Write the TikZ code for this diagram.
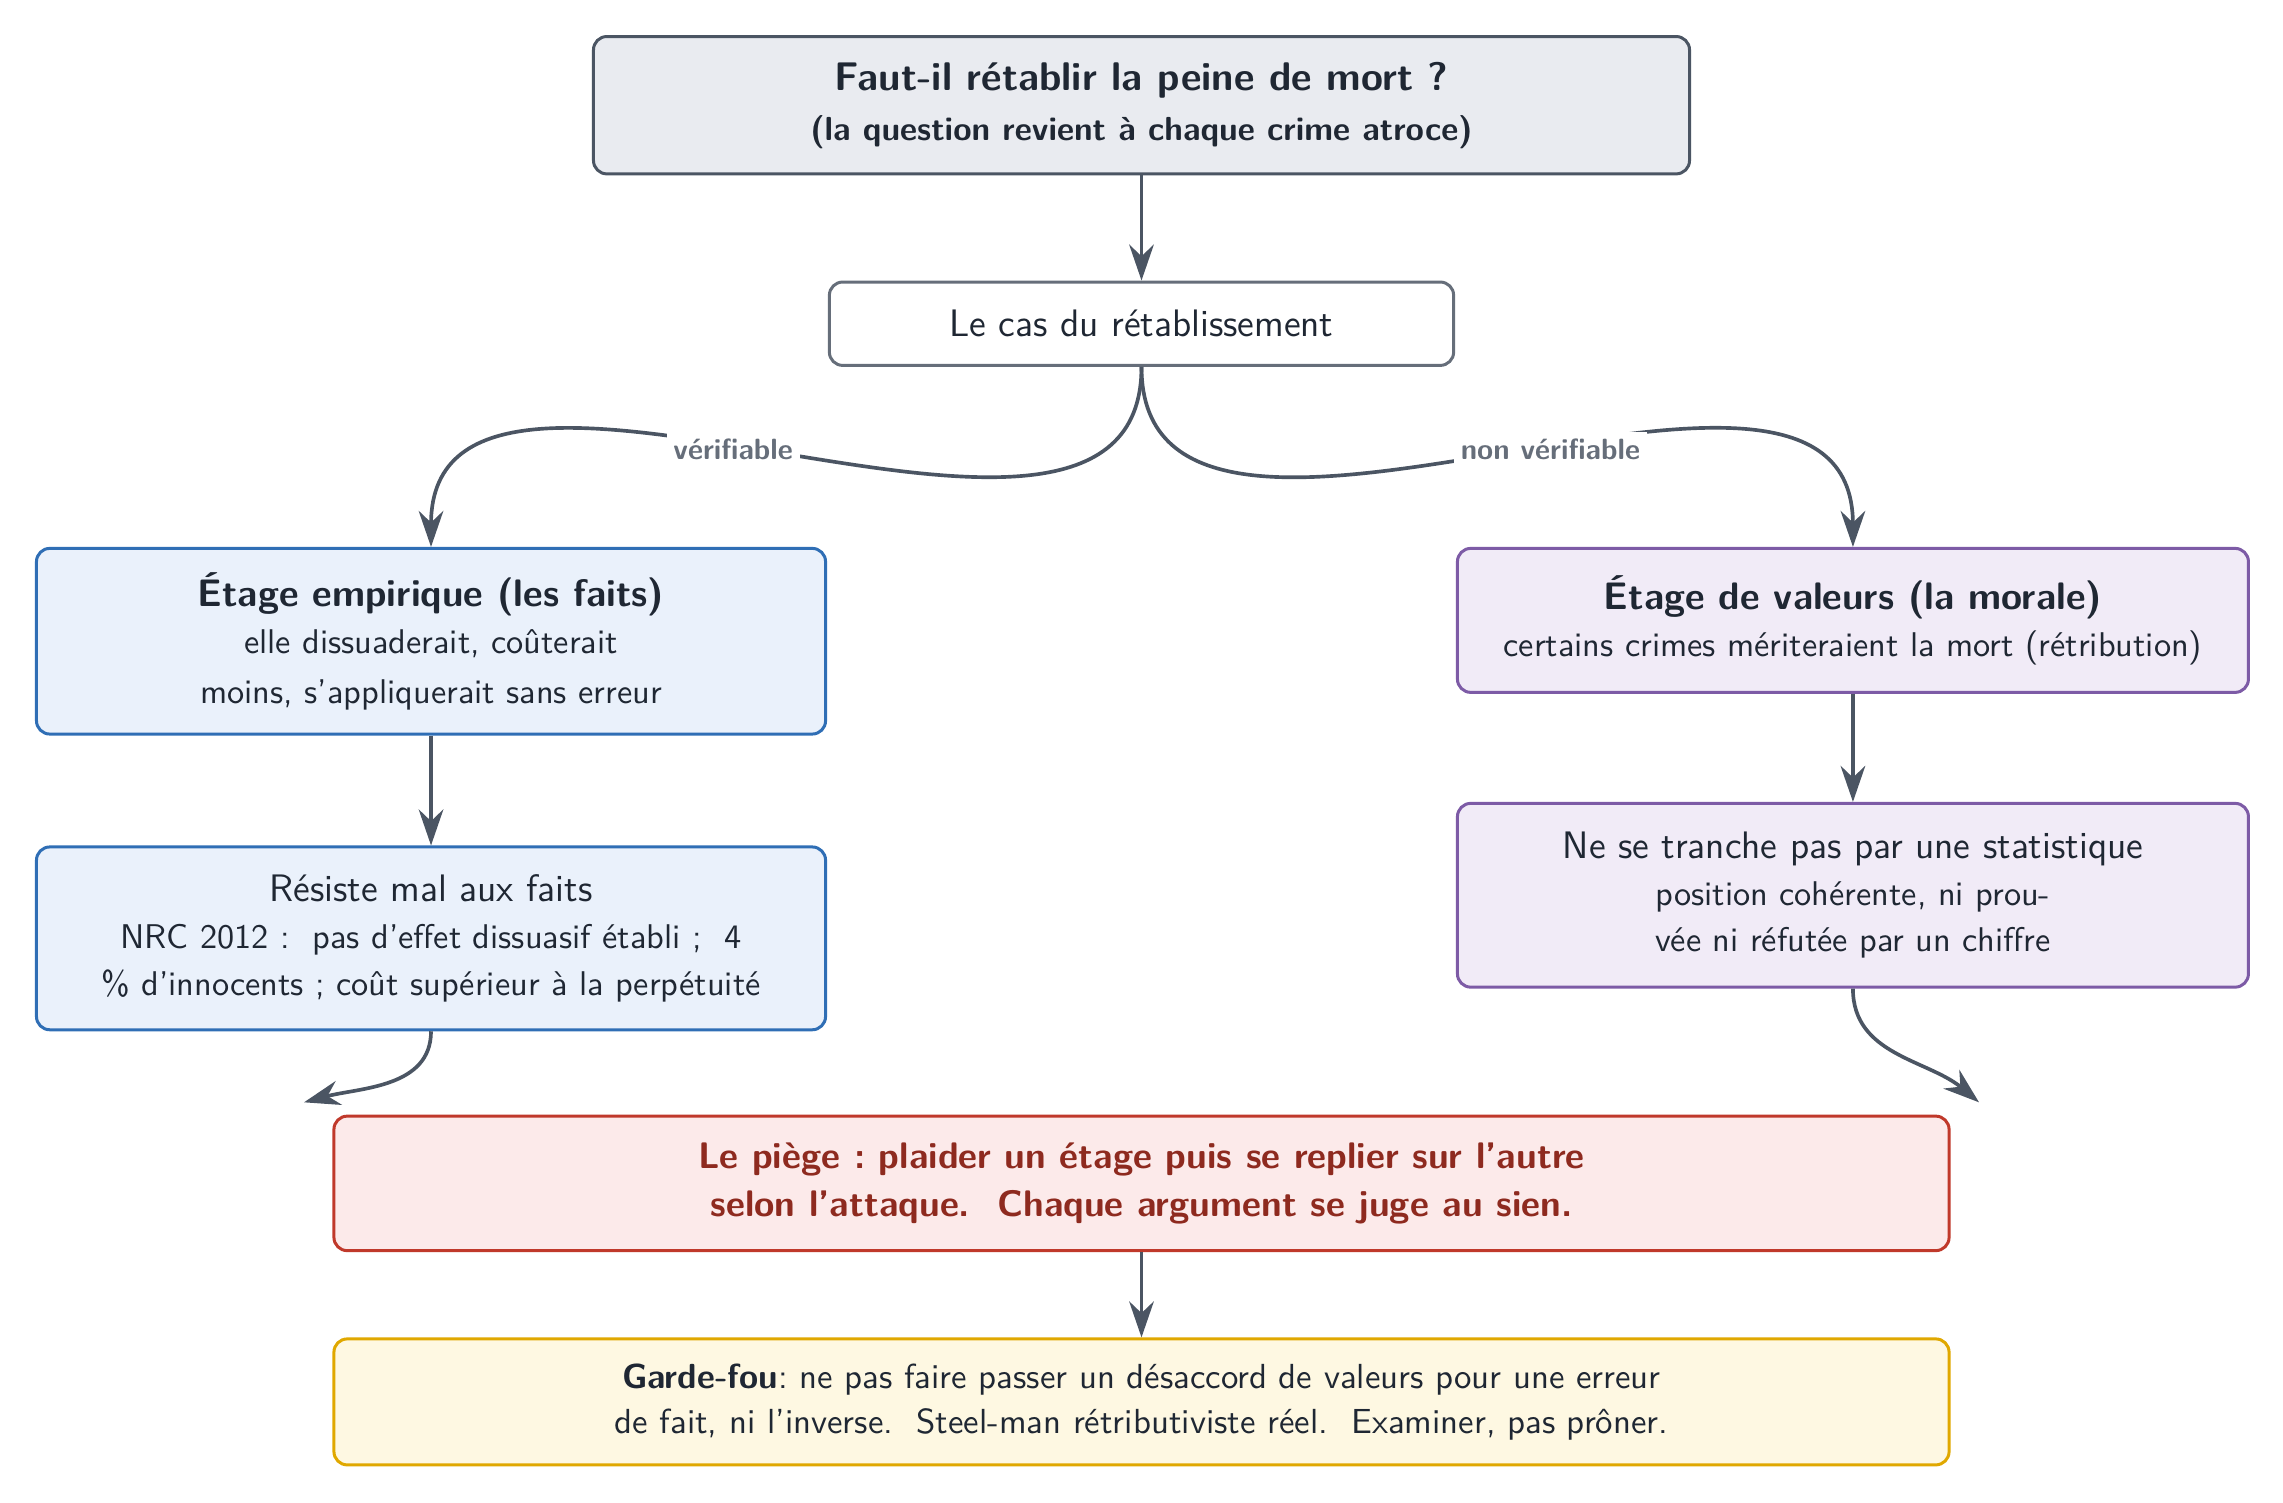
\documentclass[tikz,border=0pt]{standalone}
\usepackage{fontspec}
\usetikzlibrary{positioning,arrows.meta,calc}
\definecolor{slate}{HTML}{4B5563}
\definecolor{ink}{HTML}{1F2733}
\definecolor{qfill}{HTML}{E9EBF0}
\definecolor{empblue}{HTML}{2F6EB5}
\definecolor{empfill}{HTML}{EAF1FB}
\definecolor{valpurp}{HTML}{7D5BA6}
\definecolor{valfill}{HTML}{F1EBF7}
\definecolor{trapred}{HTML}{C0392B}
\definecolor{trapfill}{HTML}{FCEAEA}
\definecolor{traptext}{HTML}{8E2A1F}
\definecolor{guardgold}{HTML}{E0A800}
\definecolor{guardfill}{HTML}{FEF8E2}
\newcommand{\headsz}{\fontsize{11.5}{14}\selectfont}
\newcommand{\bodysz}{\fontsize{10.3}{13.5}\selectfont}

\begin{document}
\begin{tikzpicture}[
  font=\sffamily\headsz,
  >={Stealth[length=3.8mm, width=2.6mm]},
  base/.style={rounded corners=4pt, line width=0.9pt, align=center, inner sep=4pt,
               text=ink},
  question/.style={base, draw=slate, fill=qfill, minimum width=115.7mm, minimum height=14.5mm},
  pivot/.style={base, draw=slate!85, fill=white, minimum width=65.9mm, minimum height=8.8mm},
  emp/.style={base, draw=empblue, fill=empfill, minimum width=83.3mm},
  val/.style={base, draw=valpurp, fill=valfill, minimum width=83.5mm},
  trap/.style={base, draw=trapred, fill=trapfill, text=traptext,
               font=\sffamily\bfseries\fontsize{11.1}{14.5}\selectfont,
               minimum width=170.5mm, minimum height=14.2mm},
  guard/.style={base, draw=guardgold, fill=guardfill, font=\sffamily\fontsize{10.45}{13.4}\selectfont,
               minimum width=170.5mm, minimum height=13.3mm},
  flow/.style={->, line width=1.1pt, draw=slate},
  lbl/.style={font=\sffamily\bfseries\fontsize{8.8}{10}\selectfont, text=slate!85,
              fill=white, inner sep=2pt},
]
\useasboundingbox (0,0) rectangle (24.1,-15.86);

% ---- the question ----
\node[question, anchor=north] (question) at (12.05,-0.37)
  {{\bfseries\fontsize{12}{14}\selectfont Faut-il rétablir la peine de mort ?}\\[1pt]
   {\bfseries\fontsize{10}{13}\selectfont (la question revient à chaque crime atroce)}};

\node[pivot, below=11.1mm of question] (cas) {Le cas du rétablissement};

% ---- two floors ----
\node[emp, minimum height=19.6mm, below=19.0mm of cas, xshift=-75mm] (empir)
  {\textbf{Étage empirique (les faits)}\\
   {\bodysz elle dissuaderait, coûterait}\\[1pt]
   {\bodysz moins, s’appliquerait sans erreur}};
\node[emp, minimum height=19.3mm, below=11.6mm of empir] (resiste)
  {Résiste mal aux faits\\
   {\bodysz NRC 2012 :\ \ pas d’effet dissuasif établi ;\ \ 4}\\
   {\bodysz \% d’innocents ; coût supérieur à la perpétuité}};

\node[val, minimum height=15.2mm, below=19.0mm of cas, xshift=75.1mm] (valeurs)
  {\textbf{Étage de valeurs (la morale)}\\
   {\bodysz certains crimes mériteraient la mort (rétribution)}};
\node[val, minimum height=19.4mm, below=11.4mm of valeurs] (tranche)
  {Ne se tranche pas par une statistique\\
   {\bodysz position cohérente, ni prou-}\\
   {\bodysz vée ni réfutée par un chiffre}};

% ---- the trap and the safeguard ----
\node[trap, below=8.8mm of resiste, xshift=75mm] (piege)
  {Le piège :\ plaider un étage puis se replier sur l’autre\\
   selon l’attaque.\ \ Chaque argument se juge au sien.};
\node[guard, below=9.0mm of piege] (garde)
  {\textbf{Garde-fou}:\ ne pas faire passer un désaccord de valeurs pour une erreur\\
   de fait, ni l’inverse.\ \ Steel-man rétributiviste réel.\ \ Examiner, pas prôner.};

% ---- edges ----
\draw[flow] (question) -- (cas);
\draw[flow] (cas.south) to[out=-90, in=90]
   node[lbl, pos=0.55]{vérifiable} (empir.north);
\draw[flow] (cas.south) to[out=-90, in=90]
   node[lbl, pos=0.55]{non vérifiable} (valeurs.north);
\draw[flow] (empir) -- (resiste);
\draw[flow] (valeurs) -- (tranche);
% the two floors both fall into the trap, arriving at its top corners
\draw[flow] (resiste.south) to[out=-90, in=15] ($(piege.north west)+(-0.3,0.13)$);
\draw[flow] (tranche.south) to[out=-90, in=140] ($(piege.north east)+(0.3,0.13)$);
\draw[flow] (piege) -- (garde);

\end{tikzpicture}
\end{document}
